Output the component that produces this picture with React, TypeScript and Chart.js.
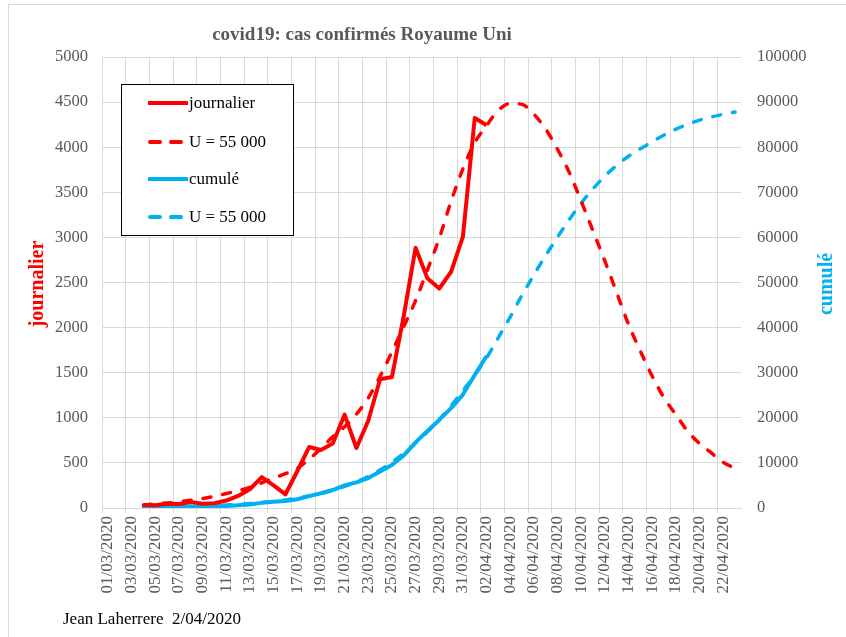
import React, { useEffect, useRef } from "react";
import { Chart, registerables } from "chart.js";

Chart.register(...registerables);

const dates: string[] = [
  "01/03/2020", "02/03/2020", "03/03/2020", "04/03/2020", "05/03/2020", "06/03/2020",
  "07/03/2020", "08/03/2020", "09/03/2020", "10/03/2020", "11/03/2020", "12/03/2020",
  "13/03/2020", "14/03/2020", "15/03/2020", "16/03/2020", "17/03/2020", "18/03/2020",
  "19/03/2020", "20/03/2020", "21/03/2020", "22/03/2020", "23/03/2020", "24/03/2020",
  "25/03/2020", "26/03/2020", "27/03/2020", "28/03/2020", "29/03/2020", "30/03/2020",
  "31/03/2020", "01/04/2020", "02/04/2020", "03/04/2020", "04/04/2020", "05/04/2020",
  "06/04/2020", "07/04/2020", "08/04/2020", "09/04/2020", "10/04/2020", "11/04/2020",
  "12/04/2020", "13/04/2020", "14/04/2020", "15/04/2020", "16/04/2020", "17/04/2020",
  "18/04/2020", "19/04/2020", "20/04/2020", "21/04/2020", "22/04/2020", "23/04/2020",
];

// daily confirmed cases (left axis), from 04/03 to 02/04
const journalier: (number | null)[] = [
  null, null, null,
  34, 30, 48, 43, 67, 48, 52, 83, 134, 208, 342, 251, 152, 407, 676, 643, 714, 1035,
  665, 967, 1427, 1452, 2129, 2885, 2546, 2433, 2619, 3009, 4324, 4244,
  null, null, null, null, null, null, null, null, null, null, null, null, null, null,
  null, null, null, null, null, null, null,
];

// model daily (left axis), dashed red, from 04/03 to 23/04
const modeleJournalier: (number | null)[] = [
  null, null, null,
  33, 45, 55, 68, 85, 105, 129, 160, 190, 230, 280, 330, 380, 440, 540, 660, 790, 900,
  1040, 1220, 1460, 1730, 2010, 2300, 2640, 2990, 3400, 3760, 4050, 4240, 4410, 4485,
  4475, 4365, 4200, 3975, 3716, 3400, 3070, 2736, 2385, 2034, 1738, 1460, 1220, 1035,
  850, 714, 610, 506, 440,
];

// cumulative confirmed cases (right axis), from 04/03 to 02/04
const cumule: (number | null)[] = [
  null, null, null,
  85, 115, 163, 206, 273, 321, 373, 456, 590, 798, 1140, 1391, 1543, 1950, 2626, 3269,
  3983, 5018, 5683, 6650, 8077, 9529, 11658, 14543, 17089, 19522, 22141, 25150, 29474,
  33718,
  null, null, null, null, null, null, null, null, null, null, null, null, null, null,
  null, null, null, null, null, null, null,
];

// model cumulative (right axis), dashed cyan, from 04/03 to 23/04
const modeleCumule: (number | null)[] = [
  null, null, null,
  165, 200, 245, 300, 365, 445, 545, 665, 810, 990, 1210, 1470, 1800, 2190, 2660, 3240,
  3940, 4780, 5790, 7000, 8450, 10150, 12130, 14400, 16900, 19600, 22700, 26000, 29500,
  33300, 37800, 42400, 47200, 51700, 56000, 60100, 64000, 67600, 70800, 73600, 76000,
  78000, 79650, 81200, 82700, 84000, 85100, 86000, 86700, 87300, 87800,
];

const TITLE = "covid19: cas confirmés Royaume Uni";
const LEFT_TITLE = "journalier";
const RIGHT_TITLE = "cumulé";
const FOOTER = "Jean Laherrere  2/04/2020";
const LEGEND_LABELS = ["journalier", "U = 55 000", "cumulé", "U = 55 000"];

const RED = "#FF0000";
const CYAN = "#00B0F0";
const GRID = "#d9d9d9";
const TEXT = "#595959";
const SERIF = "'Liberation Serif', 'Times New Roman', serif";
const DASH = [8, 12];

const overlay = {
  id: "overlay",
  afterDraw(chart: any) {
    const ctx = chart.ctx as CanvasRenderingContext2D;
    ctx.save();
    // chart area border
    ctx.strokeStyle = GRID;
    ctx.lineWidth = 1;
    ctx.strokeRect(8.5, 4.5, 900, 700);

    // title
    ctx.fillStyle = TEXT;
    ctx.font = `bold 19px ${SERIF}`;
    ctx.textAlign = "center";
    ctx.textBaseline = "middle";
    ctx.fillText(TITLE, 362, 35);

    // left axis title
    ctx.save();
    ctx.translate(38, 284);
    ctx.rotate(-Math.PI / 2);
    ctx.fillStyle = RED;
    ctx.font = `bold 20px ${SERIF}`;
    ctx.fillText(LEFT_TITLE, 0, 0);
    ctx.restore();

    // right axis title (reads bottom to top)
    ctx.save();
    ctx.translate(827, 284);
    ctx.rotate(-Math.PI / 2);
    ctx.fillStyle = CYAN;
    ctx.font = `bold 20px ${SERIF}`;
    ctx.fillText(RIGHT_TITLE, 0, 0);
    ctx.restore();

    // footer
    ctx.fillStyle = "#000000";
    ctx.font = `17px ${SERIF}`;
    ctx.textAlign = "left";
    ctx.fillText(FOOTER, 63, 620);

    // legend box
    const bx = 121.5, by = 84.5, bw = 172, bh = 151;
    ctx.fillStyle = "#ffffff";
    ctx.fillRect(bx, by, bw, bh);
    ctx.strokeStyle = "#000000";
    ctx.lineWidth = 1;
    ctx.strokeRect(bx, by, bw, bh);
    const rows = [103, 142, 179, 217];
    const colors = [RED, RED, CYAN, CYAN];
    const dashed = [false, true, false, true];
    chart.data.datasets.forEach((_ds: any, i: number) => {
      const y = rows[i];
      ctx.save();
      ctx.strokeStyle = colors[i];
      ctx.lineWidth = 4;
      ctx.lineCap = dashed[i] ? "round" : "butt";
      ctx.setLineDash(dashed[i] ? [10, 11] : []);
      ctx.beginPath();
      ctx.moveTo(dashed[i] ? 150 : 148, y);
      ctx.lineTo(188, y);
      ctx.stroke();
      ctx.restore();
      ctx.fillStyle = "#000000";
      ctx.font = `17px ${SERIF}`;
      ctx.textAlign = "left";
      ctx.textBaseline = "middle";
      ctx.fillText(LEGEND_LABELS[i], 189, y + 1);
    });
    ctx.restore();
  },
};

export default function App() {
  const canvasRef = useRef<HTMLCanvasElement | null>(null);

  useEffect(() => {
    if (!canvasRef.current) return;
    const chart = new Chart(canvasRef.current, {
      type: "line",
      data: {
        labels: dates,
        datasets: [
          {
            label: "journalier",
            data: journalier,
            yAxisID: "y",
            borderColor: RED,
            borderWidth: 4,
            pointRadius: 0,
            tension: 0,
            borderJoinStyle: "round",
          },
          {
            label: "U = 55 000",
            data: modeleJournalier,
            yAxisID: "y",
            borderColor: RED,
            borderWidth: 3.5,
            borderDash: DASH,
            borderCapStyle: "round",
            pointRadius: 0,
            cubicInterpolationMode: "monotone",
          },
          {
            label: "cumulé",
            data: cumule,
            yAxisID: "y2",
            borderColor: CYAN,
            borderWidth: 4,
            pointRadius: 0,
            tension: 0,
            borderJoinStyle: "round",
          },
          {
            label: "U = 55 000",
            data: modeleCumule,
            yAxisID: "y2",
            borderColor: CYAN,
            borderWidth: 3.5,
            borderDash: DASH,
            borderCapStyle: "round",
            pointRadius: 0,
            cubicInterpolationMode: "monotone",
          },
        ],
      },
      options: {
        responsive: false,
        animation: false,
        layout: { padding: { top: 57, left: 0, right: 0, bottom: 0 }, autoPadding: false },
        plugins: {
          legend: { display: false },
          title: { display: false },
          tooltip: { enabled: false },
        },
        scales: {
          x: {
            type: "category",
            offset: true,
            grid: {
              offset: true,
              color: (c: any) => (c.index % 2 === 0 ? GRID : "rgba(0,0,0,0)"),
              tickLength: 5,
              lineWidth: 1,
            },
            border: { color: GRID },
            ticks: {
              autoSkip: false,
              minRotation: 90,
              maxRotation: 90,
              padding: 3,
              color: TEXT,
              font: { family: SERIF, size: 17 },
              callback: (_v: any, i: number) => (i % 2 === 0 ? dates[i] : ""),
            },
            afterFit: (s: any) => {
              s.height = 129;
            },
          },
          y: {
            position: "left",
            min: 0,
            max: 5000,
            grid: { color: GRID, drawTicks: false },
            border: { color: GRID },
            ticks: {
              stepSize: 500,
              padding: 14,
              color: TEXT,
              font: { family: SERIF, size: 16.5 },
              callback: (v: any) => String(v),
            },
            afterFit: (s: any) => {
              s.width = 102;
            },
          },
          y2: {
            position: "right",
            min: 0,
            max: 100000,
            grid: { drawOnChartArea: false, drawTicks: false },
            border: { display: false },
            ticks: {
              stepSize: 10000,
              padding: 16,
              color: TEXT,
              font: { family: SERIF, size: 16.5 },
              callback: (v: any) => String(v),
            },
            afterFit: (s: any) => {
              s.width = 105;
            },
          },
        },
      },
      plugins: [overlay],
    } as any);
    return () => chart.destroy();
  }, []);

  return (
    <div style={{ position: "fixed", left: 0, top: 0, width: 846, height: 637, background: "#fff" }}>
      <canvas ref={canvasRef} width={846} height={637} style={{ display: "block" }} />
    </div>
  );
}
